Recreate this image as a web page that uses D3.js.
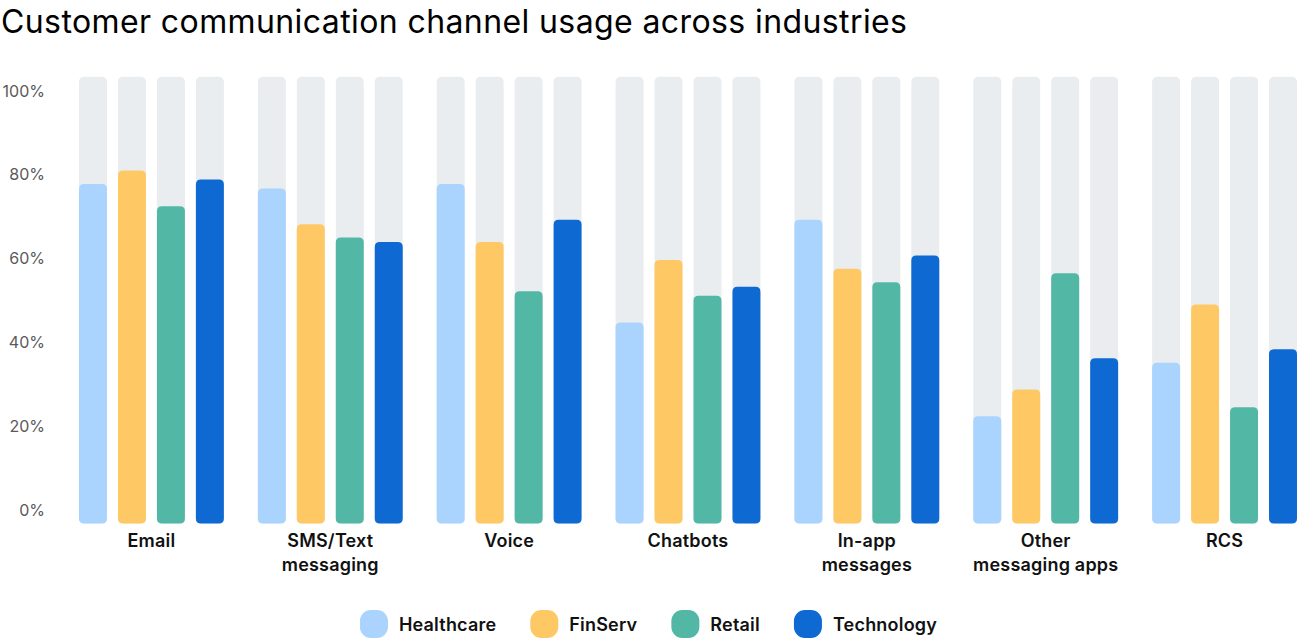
<!DOCTYPE html>
<html>
<head>
<meta charset="utf-8">
<script src="https://cdn.jsdelivr.net/npm/d3@7"></script>
<style>
  html, body { margin: 0; padding: 0; background: #ffffff; }
  svg { display: block; }
</style>
</head>
<body>
<svg id="chart" width="1297" height="639"></svg>
<script>
const title = "Customer communication channel usage across industries";
const categories = ["Email", "SMS/Text messaging", "Voice", "Chatbots", "In-app messages", "Other messaging apps", "RCS"];
const categoryLines = [["Email"], ["SMS/Text", "messaging"], ["Voice"], ["Chatbots"], ["In-app", "messages"], ["Other", "messaging apps"], ["RCS"]];
const series = ["Healthcare", "FinServ", "Retail", "Technology"];
const healthcare = [76, 75, 76, 45, 68, 24, 36];
const finserv    = [79, 67, 63, 59, 57, 30, 49];
const retail     = [71, 64, 52, 51, 54, 56, 26];
const technology = [77, 63, 68, 53, 60, 37, 39];
const yTicks = [0, 20, 40, 60, 80, 100];
const colors = ["#aad4fe", "#fec965", "#52b8a5", "#0e69d3"];
const trackColor = "#e9edf0";

const valuesBySeries = [healthcare, finserv, retail, technology];
const data = categories.map((c, i) => ({
  category: c,
  lines: categoryLines[i],
  values: series.map((s, j) => ({ series: s, value: valuesBySeries[j][i], color: colors[j] }))
}));

const svg = d3.select("#chart");
const font = "Inter, 'Noto Sans', sans-serif";

// Title
svg.append("text")
  .attr("x", 1).attr("y", 33)
  .attr("font-family", font).attr("font-size", 32).attr("font-weight", 400)
  .attr("fill", "#000").attr("letter-spacing", 0.4)
  .text(title);

// Scales
const x0 = d3.scaleBand().domain(categories).range([79, 1297]).paddingInner(0.19).paddingOuter(0);
const x1 = d3.scaleBand().domain(series).range([0, x0.bandwidth()]).paddingInner(0.282).paddingOuter(0);
const y = d3.scaleLinear().domain([0, 100]).range([523.5, 76.7]);
const yLabel = d3.scaleLinear().domain([0, 100]).range([510, 91]);

// Y axis labels
const yAxis = d3.axisLeft(yLabel).tickValues(yTicks).tickFormat(d => d + "%").tickSize(0).tickPadding(0);
const yg = svg.append("g").attr("transform", "translate(45,0)").call(yAxis);
yg.select(".domain").remove();
yg.selectAll("text")
  .attr("font-family", font).attr("font-size", 16).attr("fill", "#5a5a5a").attr("font-weight", 400);

// Bars
const r = 5;
function roundedTop(xp, yTop, w, yBot, rad) {
  const h = yBot - yTop;
  const rr = Math.min(rad, h / 2, w / 2);
  return `M${xp},${yBot - rr}` +
    `L${xp},${yTop + rr}` +
    `Q${xp},${yTop} ${xp + rr},${yTop}` +
    `L${xp + w - rr},${yTop}` +
    `Q${xp + w},${yTop} ${xp + w},${yTop + rr}` +
    `L${xp + w},${yBot - rr}` +
    `Q${xp + w},${yBot} ${xp + w - rr},${yBot}` +
    `L${xp + rr},${yBot}` +
    `Q${xp},${yBot} ${xp},${yBot - rr}Z`;
}

const groups = svg.append("g").selectAll("g.group")
  .data(data).join("g")
  .attr("class", "group")
  .attr("transform", d => `translate(${x0(d.category)},0)`);

groups.selectAll("rect.track")
  .data(d => d.values).join("rect")
  .attr("class", "track")
  .attr("x", d => x1(d.series))
  .attr("y", y(100))
  .attr("width", x1.bandwidth())
  .attr("height", y(0) - y(100))
  .attr("rx", r).attr("ry", r)
  .attr("fill", trackColor);

groups.selectAll("path.bar")
  .data(d => d.values).join("path")
  .attr("class", "bar")
  .attr("d", d => roundedTop(x1(d.series), y(d.value), x1.bandwidth(), y(0), r))
  .attr("fill", d => d.color);

// Category labels
groups.each(function(d) {
  const t = d3.select(this).append("text")
    .attr("x", x0.bandwidth() / 2)
    .attr("y", 547)
    .attr("text-anchor", "middle")
    .attr("font-family", font).attr("font-size", 18).attr("font-weight", 600)
    .attr("letter-spacing", 0.2)
    .attr("fill", "#111");
  d.lines.forEach((ln, i) => {
    t.append("tspan").attr("x", x0.bandwidth() / 2).attr("y", 547 + i * 24).text(ln);
  });
});

// Legend
const legend = svg.append("g");
const sw = 28, sh = 28, gapText = 11, gapItem = 34;
const items = legend.selectAll("g.item").data(series).join("g").attr("class", "item");
items.append("rect")
  .attr("width", sw).attr("height", sh).attr("rx", 11).attr("ry", 11)
  .attr("y", 610)
  .attr("fill", (d, i) => colors[i]);
items.append("text")
  .attr("x", sw + gapText).attr("y", 630.5)
  .attr("font-family", font).attr("font-size", 18).attr("font-weight", 600)
  .attr("letter-spacing", 0.2)
  .attr("fill", "#111")
  .text(d => d);
let widths = [];
items.each(function() { widths.push(sw + gapText + d3.select(this).select("text").node().getComputedTextLength()); });
const total = d3.sum(widths) + gapItem * (widths.length - 1);
let cx = 648.5 - total / 2;
items.attr("transform", (d, i) => { const tx = cx; cx += widths[i] + gapItem; return `translate(${tx},0)`; });
</script>
</body>
</html>
